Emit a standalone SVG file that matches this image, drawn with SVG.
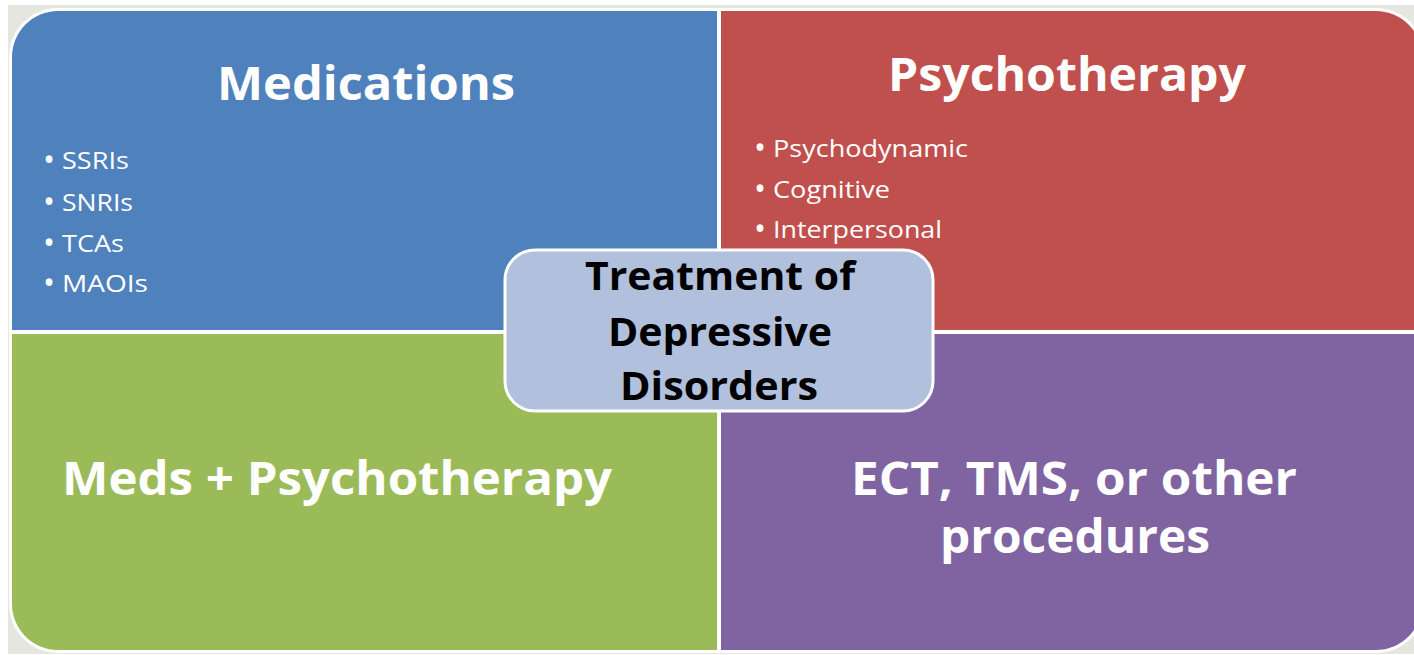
<svg xmlns="http://www.w3.org/2000/svg" width="1414" height="655" viewBox="0 0 1414 655">
  <style>
    .title { font-family: "Open Sans", "Liberation Sans", sans-serif; font-weight: bold; font-size: 46px; fill: #ffffff; text-anchor: middle; }
    .item { font-family: "Open Sans", "Liberation Sans", sans-serif; font-size: 24px; fill: #ffffff; }
    .bullet { font-size: 32px; }
    .hub { font-family: "Open Sans", "Liberation Sans", sans-serif; font-weight: bold; font-size: 39px; fill: #000000; text-anchor: middle; }
  </style>

  <!-- page and frame -->
  <rect x="0" y="0" width="1414" height="655" fill="#ffffff"/>
  <rect x="8" y="5" width="1414" height="649" fill="#e6e6e1"/>
  <rect x="9" y="8" width="1416" height="645" rx="49" ry="49" fill="#ffffff"/>

  <!-- top-left quadrant -->
  <g id="medications">
    <path d="M12,57 A46,46 0 0 1 58,11 L717,11 L717,330 L12,330 Z" fill="#4f81bd"/>
    <text class="title" x="366" y="100" textLength="298" lengthAdjust="spacingAndGlyphs">Medications</text>
    <text class="item" y="169"><tspan class="bullet" x="43" dy="2">•</tspan><tspan x="62" dy="-2" textLength="67" lengthAdjust="spacingAndGlyphs">SSRIs</tspan></text>
    <text class="item" y="211"><tspan class="bullet" x="43" dy="2">•</tspan><tspan x="62" dy="-2" textLength="71" lengthAdjust="spacingAndGlyphs">SNRIs</tspan></text>
    <text class="item" y="252"><tspan class="bullet" x="43" dy="2">•</tspan><tspan x="62" dy="-2" textLength="62" lengthAdjust="spacingAndGlyphs">TCAs</tspan></text>
    <text class="item" y="292"><tspan class="bullet" x="43" dy="2">•</tspan><tspan x="62" dy="-2" textLength="86" lengthAdjust="spacingAndGlyphs">MAOIs</tspan></text>
  </g>

  <!-- top-right quadrant -->
  <g id="psychotherapy">
    <path d="M721,11 L1376,11 A46,46 0 0 1 1422,57 L1422,330 L721,330 Z" fill="#c0504d"/>
    <text class="title" x="1067" y="91" textLength="358" lengthAdjust="spacingAndGlyphs">Psychotherapy</text>
    <text class="item" y="157"><tspan class="bullet" x="754" dy="2">•</tspan><tspan x="773" dy="-2" textLength="195" lengthAdjust="spacingAndGlyphs">Psychodynamic</tspan></text>
    <text class="item" y="198"><tspan class="bullet" x="754" dy="2">•</tspan><tspan x="773" dy="-2" textLength="117" lengthAdjust="spacingAndGlyphs">Cognitive</tspan></text>
    <text class="item" y="238"><tspan class="bullet" x="754" dy="2">•</tspan><tspan x="773" dy="-2" textLength="169" lengthAdjust="spacingAndGlyphs">Interpersonal</tspan></text>
  </g>

  <!-- bottom-left quadrant -->
  <g id="combined">
    <path d="M12,334 L717,334 L717,650 L58,650 A46,46 0 0 1 12,604 Z" fill="#9bbb59"/>
    <text class="title" x="337" y="495" textLength="550" lengthAdjust="spacingAndGlyphs">Meds + Psychotherapy</text>
  </g>

  <!-- bottom-right quadrant -->
  <g id="procedures">
    <path d="M721,334 L1422,334 L1422,604 A46,46 0 0 1 1376,650 L721,650 Z" fill="#8064a2"/>
    <text class="title" x="1074" y="495" textLength="446" lengthAdjust="spacingAndGlyphs">ECT, TMS, or other</text>
    <text class="title" x="1075" y="553" textLength="270" lengthAdjust="spacingAndGlyphs">procedures</text>
  </g>

  <!-- centre hub -->
  <g id="treatment">
    <rect x="505" y="250" width="428" height="161" rx="30" ry="30" fill="#b1c1dd" stroke="#ffffff" stroke-width="3"/>
    <text class="hub" x="720" y="290" textLength="270" lengthAdjust="spacingAndGlyphs">Treatment of</text>
    <text class="hub" x="720" y="346" textLength="224" lengthAdjust="spacingAndGlyphs">Depressive</text>
    <text class="hub" x="719" y="400" textLength="198" lengthAdjust="spacingAndGlyphs">Disorders</text>
  </g>
</svg>
